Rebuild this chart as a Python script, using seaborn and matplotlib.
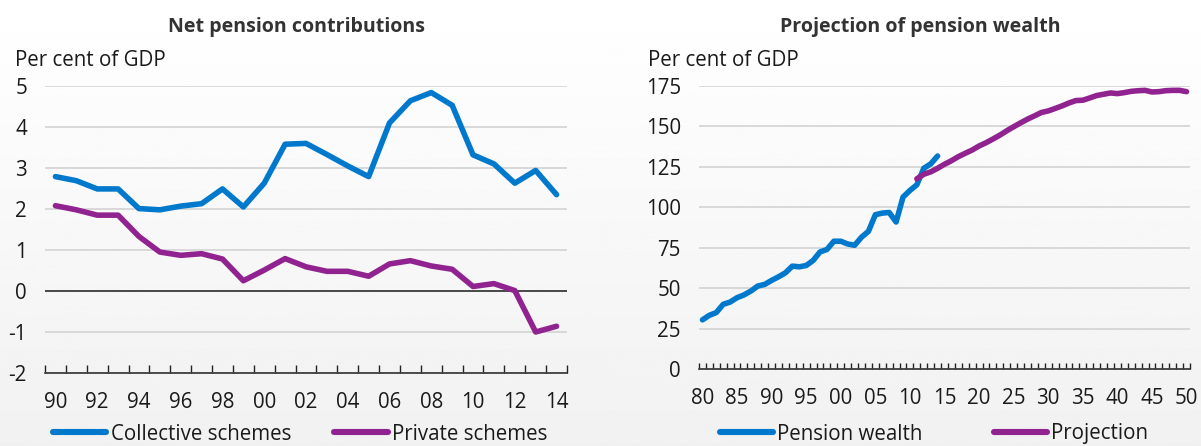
import numpy as np
import pandas as pd
import matplotlib
matplotlib.use("Agg")
import matplotlib.pyplot as plt
import seaborn as sns
from matplotlib.ticker import FixedLocator, NullFormatter
from matplotlib.lines import Line2D

# ---------------- data ----------------
years_left = list(range(1990, 2015))
collective = [2.79, 2.69, 2.49, 2.49, 2.01, 1.98, 2.07, 2.13, 2.49, 2.05,
              2.63, 3.58, 3.60, 3.33, 3.05, 2.79, 4.10, 4.64, 4.84, 4.53,
              3.32, 3.10, 2.63, 2.94, 2.35]
private = [2.08, 1.98, 1.85, 1.85, 1.33, 0.95, 0.87, 0.91, 0.78, 0.25,
           0.51, 0.79, 0.59, 0.48, 0.48, 0.36, 0.66, 0.74, 0.61, 0.53,
           0.11, 0.18, 0.01, -1.00, -0.86]

years_wealth = list(range(1980, 2015))
pension_wealth = [30.4, 33.2, 34.9, 40.0, 41.4, 44.1, 45.8, 48.2, 51.3, 52.3,
                  54.8, 57.0, 59.5, 63.6, 63.2, 64.0, 67.1, 72.4, 73.9, 79.0,
                  79.0, 77.3, 76.5, 81.5, 85.1, 95.4, 96.4, 96.8, 90.9, 106.3,
                  110.4, 113.9, 124.1, 126.8, 131.7]

years_proj = list(range(2011, 2051))
projection = [117.6, 120.4, 121.9, 124.1, 126.6, 128.8, 131.3, 133.4, 135.4, 137.9,
              139.9, 142.2, 144.6, 147.3, 149.8, 152.2, 154.5, 156.5, 158.6, 159.6,
              161.1, 162.7, 164.5, 166.0, 166.2, 167.6, 169.1, 169.9, 170.7, 170.3,
              170.9, 171.7, 172.1, 172.3, 171.3, 171.5, 172.1, 172.3, 172.3, 171.5]

left_labels = ["Collective schemes", "Private schemes"]
right_labels = ["Pension wealth", "Projection"]

BLUE = "#0079CC"
PURPLE = "#90238F"
TXT = "#1a1a1a"

df_left = pd.concat([
    pd.DataFrame({"year": years_left, "value": collective, "series": left_labels[0]}),
    pd.DataFrame({"year": years_left, "value": private, "series": left_labels[1]}),
])
df_right = pd.concat([
    pd.DataFrame({"year": years_wealth, "value": pension_wealth, "series": right_labels[0]}),
    pd.DataFrame({"year": years_proj, "value": projection, "series": right_labels[1]}),
])

sns.set_theme(style="white")
plt.rcParams['font.family'] = ['Open Sans', 'DejaVu Sans']
plt.rcParams['text.color'] = TXT
plt.rcParams['xtick.color'] = TXT
plt.rcParams['ytick.color'] = TXT

FS = 14.8
W, H = 1201, 446
fig = plt.figure(figsize=(W / 100, H / 100), dpi=100)

# gradient background
bg = fig.add_axes([0, 0, 1, 1], zorder=-10)
grad = np.linspace(1.0, 0.945, 256).reshape(-1, 1)
bg.imshow(grad, cmap="gray", vmin=0, vmax=1, aspect="auto", extent=[0, 1, 0, 1])
bg.axis("off")

ax1 = fig.add_axes([45 / W, 1 - 373 / H, 522 / W, 287 / H])
ax2 = fig.add_axes([699 / W, 1 - 369 / H, 491 / W, 283 / H])

LW = 4.0
sns.lineplot(data=df_left, x="year", y="value", hue="series",
             palette=[BLUE, PURPLE], linewidth=LW, ax=ax1, legend=False, sort=False)
sns.lineplot(data=df_right, x="year", y="value", hue="series",
             palette=[BLUE, PURPLE], linewidth=LW, ax=ax2, legend=False, sort=False)
for ax in (ax1, ax2):
    for ln in ax.lines:
        ln.set_solid_capstyle("round")
        ln.set_solid_joinstyle("round")


def style(ax, xlim, ylim, yticks, xlabels_years, ticklen):
    ax.set_facecolor("none")
    ax.set_xlim(*xlim)
    ax.set_ylim(*ylim)
    ax.set_xlabel("")
    ax.set_ylabel("")
    for s in ("left", "right", "top"):
        ax.spines[s].set_visible(False)
    ax.spines["bottom"].set_color("#222222")
    ax.spines["bottom"].set_linewidth(1.1)
    ax.set_yticks(yticks)
    ax.yaxis.grid(True, color="#d3d3d3", linewidth=1.2)
    ax.xaxis.grid(False)
    ax.set_axisbelow(True)
    ax.tick_params(axis="y", length=0, pad=13, labelsize=FS, colors=TXT)
    ax.set_xticks(xlabels_years)
    ax.set_xticklabels([f"{y % 100:02d}" for y in xlabels_years])
    ax.tick_params(axis="x", which="major", length=0, pad=14, labelsize=FS, colors=TXT)
    minors = np.arange(xlim[0], xlim[1] + 0.01, 1.0)
    ax.xaxis.set_minor_locator(FixedLocator(minors))
    ax.xaxis.set_minor_formatter(NullFormatter())
    ax.tick_params(axis="x", which="minor", direction="in", length=ticklen,
                   width=1.0, color="#222222", bottom=True)


style(ax1, (1989.5, 2014.5), (-2, 5), range(-2, 6), list(range(1990, 2015, 2)), 6)
ax1.axhline(0, color="#222222", linewidth=1.1, zorder=1.5)
ax1.set_yticklabels([str(v) for v in range(-2, 6)])

style(ax2, (1979.5, 2050.5), (0, 175), range(0, 176, 25), list(range(1980, 2051, 5)), 4.5)
ax2.set_yticklabels([str(v) for v in range(0, 176, 25)])

# titles and unit labels
fig.text(296 / W, 1 - 32 / H, "Net pension contributions", ha="center", va="baseline",
         fontsize=14.1, fontweight="bold", color="#333333")
fig.text(920 / W, 1 - 32 / H, "Projection of pension wealth", ha="center", va="baseline",
         fontsize=14.1, fontweight="bold", color="#333333")
fig.text(15 / W, 1 - 66 / H, "Per cent of GDP", ha="left", va="baseline", fontsize=FS)
fig.text(648 / W, 1 - 66 / H, "Per cent of GDP", ha="left", va="baseline", fontsize=FS)

# legends
h1 = [Line2D([], [], color=BLUE, linewidth=4.4, solid_capstyle="round"),
      Line2D([], [], color=PURPLE, linewidth=4.4, solid_capstyle="round")]
fig.legend(h1, left_labels, loc="center", bbox_to_anchor=(300 / W, 1 - 434 / H),
           ncol=2, frameon=False, fontsize=FS, handlelength=2.6, handletextpad=0.2,
           columnspacing=2.1, borderpad=0, borderaxespad=0)
fig.legend(h1, right_labels, loc="center", bbox_to_anchor=(934 / W, 1 - 434 / H),
           ncol=2, frameon=False, fontsize=FS, handlelength=2.6, handletextpad=0.2,
           columnspacing=3.45, borderpad=0, borderaxespad=0)

fig.savefig("out.png", dpi=100)
